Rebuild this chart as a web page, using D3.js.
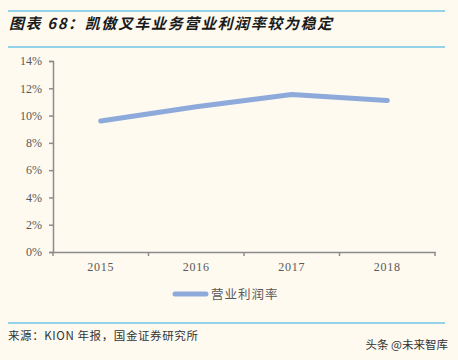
<!DOCTYPE html>
<html>
<head>
<meta charset="utf-8">
<script src="https://cdn.jsdelivr.net/npm/d3@7"></script>
<style>
  body { margin: 0; background: #fefaf0; }
  svg { display: block; }
</style>
</head>
<body>
<div id="chart"></div>
<script>
// data
const years = ['2015', '2016', '2017', '2018'];
const margin = [9.6, 10.65, 11.55, 11.1];
const yTicks = [0, 2, 4, 6, 8, 10, 12, 14];
const seriesName = '营业利润率';

const W = 458, H = 360;
const svg = d3.select('#chart').append('svg')
    .attr('width', W)
    .attr('height', H);

svg.append('rect').attr('width', W).attr('height', H).attr('fill', '#fefaf0');

// title block
svg.append('line').attr('x1', 8).attr('x2', 445).attr('y1', 11).attr('y2', 11)
    .attr('stroke', '#6fc4e8').attr('stroke-width', 1.5);
svg.append('line').attr('x1', 8).attr('x2', 445).attr('y1', 47).attr('y2', 47)
    .attr('stroke', '#6fc4e8').attr('stroke-width', 1.5);
svg.append('text')
    .attr('x', 9).attr('y', 29)
    .attr('font-family', 'Noto Sans CJK SC')
    .attr('font-weight', 'bold')
    .attr('font-style', 'italic')
    .attr('font-size', 15)
    .attr('letter-spacing', 1.6)
    .attr('fill', '#1a1a1a')
    .text('图表 68：凯傲叉车业务营业利润率较为稳定');

// plot area
const x = d3.scaleBand().domain(years).range([53, 435]);
const y = d3.scaleLinear().domain([0, 14]).range([252, 61]);

const xAxis = svg.append('g')
    .attr('transform', 'translate(0,252)')
    .call(d3.axisBottom(x).tickSize(0).tickPadding(10));
xAxis.select('.domain').attr('stroke', '#8c8c8c').attr('stroke-width', 1.5);
// category boundary ticks
const edges = years.map(d => x(d)).concat([x.range()[1]]);
xAxis.selectAll('.edge').data(edges).enter().append('line')
    .attr('class', 'edge')
    .attr('x1', d => d).attr('x2', d => d)
    .attr('y1', 0).attr('y2', 4)
    .attr('stroke', '#8c8c8c').attr('stroke-width', 1.5);
xAxis.selectAll('.tick text')
    .attr('font-family', 'Liberation Serif')
    .attr('font-size', 12)
    .attr('fill', '#595959')
    .attr('letter-spacing', 0.8);

const yAxis = svg.append('g')
    .attr('transform', 'translate(53,0)')
    .call(d3.axisLeft(y).tickValues(yTicks).tickFormat(d => d + '%').tickSize(4).tickSizeOuter(4).tickPadding(7));
yAxis.select('.domain').attr('stroke', '#8c8c8c').attr('stroke-width', 1.5);
yAxis.selectAll('.tick line').attr('stroke', '#8c8c8c').attr('stroke-width', 1.5);
yAxis.selectAll('.tick text')
    .attr('font-family', 'Liberation Serif')
    .attr('font-size', 12)
    .attr('fill', '#595959');

// series line
const line = d3.line()
    .x((d, i) => x(years[i]) + x.bandwidth() / 2)
    .y(d => y(d));

svg.append('path')
    .datum(margin)
    .attr('d', line)
    .attr('fill', 'none')
    .attr('stroke', '#8eaadb')
    .attr('stroke-width', 5)
    .attr('stroke-linecap', 'round')
    .attr('stroke-linejoin', 'round');

// legend
svg.append('line').attr('x1', 175).attr('x2', 206).attr('y1', 294).attr('y2', 294)
    .attr('stroke', '#8eaadb').attr('stroke-width', 5).attr('stroke-linecap', 'round');
svg.append('text')
    .attr('x', 211).attr('y', 299)
    .attr('font-family', 'Noto Sans CJK SC')
    .attr('font-size', 12.5)
    .attr('fill', '#595959')
    .attr('letter-spacing', 1)
    .text(seriesName);

// footer
svg.append('line').attr('x1', 8).attr('x2', 445).attr('y1', 323).attr('y2', 323)
    .attr('stroke', '#6fc4e8').attr('stroke-width', 1.5);
svg.append('text')
    .attr('x', 8).attr('y', 340)
    .attr('font-family', 'Noto Sans CJK SC')
    .attr('font-size', 11.5)
    .attr('letter-spacing', 0.6)
    .attr('fill', '#333')
    .text('来源：KION 年报，国金证券研究所');
svg.append('text')
    .attr('x', 448).attr('y', 349)
    .attr('text-anchor', 'end')
    .attr('font-family', 'Noto Sans CJK SC')
    .attr('font-size', 11.5)
    .attr('fill', '#333')
    .text('头条 @未来智库');
</script>
</body>
</html>
